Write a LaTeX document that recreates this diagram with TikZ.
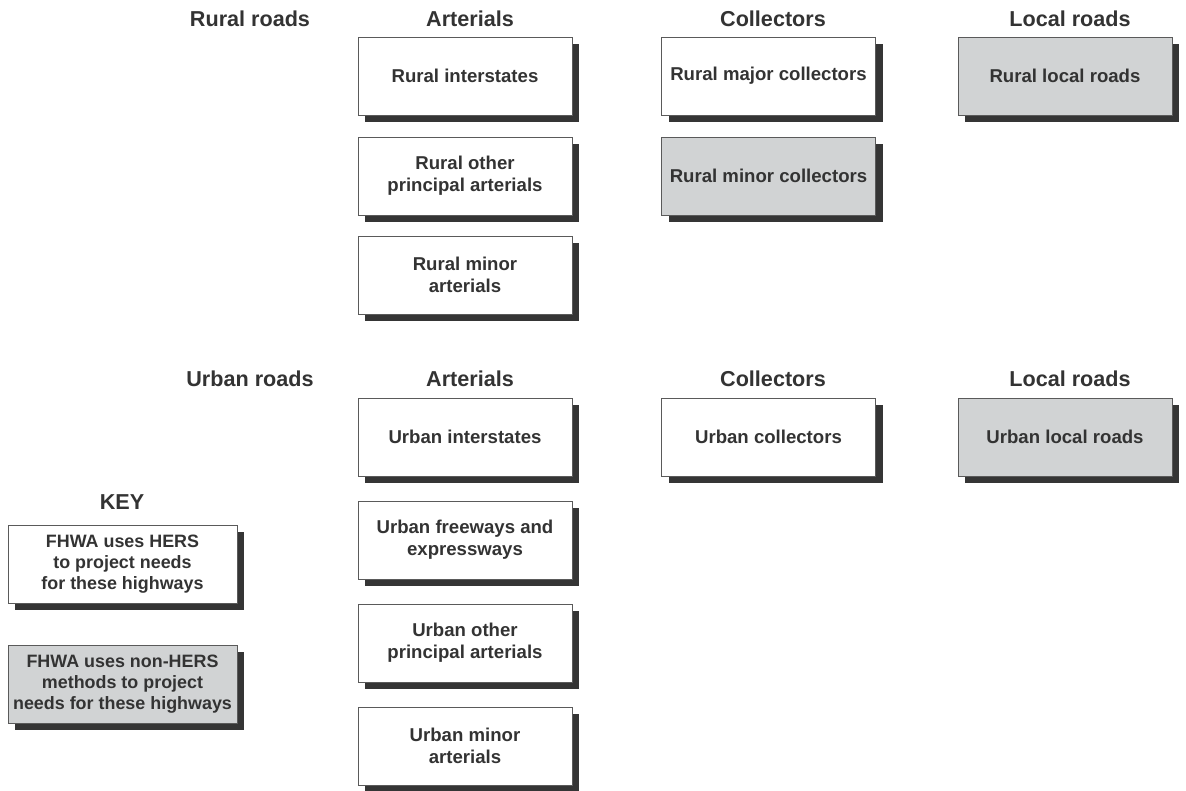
\documentclass[tikz,border=0pt]{standalone}
\usepackage{fontspec}
\setmainfont{Liberation Sans}
\usetikzlibrary{shadows}
\definecolor{inkgray}{HTML}{333333}
\definecolor{edgegray}{HTML}{5A5A5A}
\definecolor{shadowgray}{HTML}{353535}
\definecolor{nonhers}{HTML}{D1D3D4}
\begin{document}
\begin{tikzpicture}[x=1pt,y=-1pt,
  every node/.style={text=inkgray},
  hdr/.style={anchor=base,font=\bfseries\fontsize{21.6}{26}\selectfont},
  roadbox/.style={draw=edgegray,line width=0.8pt,fill=white,
    minimum width=214pt,minimum height=78pt,align=center,inner sep=2pt,
    font=\bfseries\fontsize{18.6}{22}\selectfont,
    drop shadow={shadow xshift=7pt,shadow yshift=-7pt,fill=shadowgray,opacity=1}},
  graybox/.style={roadbox,fill=nonhers},
  keybox/.style={roadbox,minimum width=229pt,
    font=\bfseries\fontsize{17.9}{21}\selectfont}]
\useasboundingbox (0,0) rectangle (1186,791);

% rural headings
\node[hdr] (rural)  at (250,27)  {Rural roads};
\node[hdr] (rart)   at (470,27)  {Arterials};
\node[hdr] (rcol)   at (773,27)  {Collectors};
\node[hdr] (rloc)   at (1070,27) {Local roads};

% rural classes
\node[roadbox] (ri)  at (465,76)    {Rural interstates};
\node[roadbox] (ro)  at (465,176)   {Rural other\\principal arterials};
\node[roadbox] (rm)  at (465,275)   {Rural minor\\arterials};
\node[roadbox] (rmj) at (768.5,76)  {Rural major collectors};
\node[graybox] (rmn) at (768.5,176) {Rural minor collectors};
\node[graybox] (rl)  at (1065,76)   {Rural local roads};

% urban headings
\node[hdr] (urban)  at (250,387)  {Urban roads};
\node[hdr] (uart)   at (470,387)  {Arterials};
\node[hdr] (ucol)   at (773,387)  {Collectors};
\node[hdr] (uloc)   at (1070,387) {Local roads};

% urban classes
\node[roadbox] (ui)  at (465,437)   {Urban interstates};
\node[roadbox] (uf)  at (465,540)   {Urban freeways and\\expressways};
\node[roadbox] (uo)  at (465,643)   {Urban other\\principal arterials};
\node[roadbox] (um)  at (465,746)   {Urban minor\\arterials};
\node[roadbox] (uc)  at (768.5,437) {Urban collectors};
\node[graybox] (ul)  at (1065,437)  {Urban local roads};

% key
\node[hdr] (key) at (122,509) {KEY};
\node[keybox] (kh) at (122.5,564)
  {FHWA uses HERS\\to project needs\\for these highways};
\node[keybox,fill=nonhers] (kn) at (122.5,684)
  {FHWA uses non-HERS\\methods to project\\needs for these highways};
\end{tikzpicture}
\end{document}
